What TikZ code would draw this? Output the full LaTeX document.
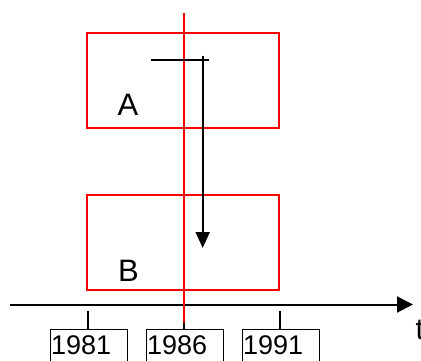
\documentclass[tikz,border=0pt]{standalone}
\usepackage{fontspec}
\setmainfont{Liberation Sans}
\usetikzlibrary{arrows.meta}
\begin{document}
\begin{tikzpicture}[x=1pt,y=-1pt,
  redbox/.style={draw=red,line width=2pt,minimum width=192pt,minimum height=95pt,inner sep=0pt},
  letter/.style={inner sep=0pt,anchor=base,font=\fontsize{31}{36}\selectfont},
  yearbox/.style={draw=black,line width=1pt,anchor=north west,text width=75pt,align=left,
    inner xsep=1pt,inner ysep=6pt,text height=19pt,text depth=10pt,font=\fontsize{27}{30}\selectfont},
  tickline/.style={draw=black,line width=1.6pt},
  blackline/.style={draw=black,line width=2pt}]
\useasboundingbox (0,0) rectangle (421,361);
% boxes
\node[redbox] (boxA) at (183,80.5) {};
\node[redbox] (boxB) at (183,242) {};
\node[letter] (labA) at (128,116) {A};
\node[letter] (labB) at (128.5,281) {B};
% year boxes
\node[yearbox] (y1981) at (49.5,329) {1981};
\node[yearbox] (y1986) at (145.5,329) {1986};
\node[yearbox] (y1991) at (241.5,329) {1991};
% ticks
\coordinate (t1) at (88,311);
\coordinate (t2) at (184,311);
\coordinate (t3) at (280,311);
\draw[tickline] (t1) -- (t1 |- y1981.north);
\draw[tickline] (t2) -- (t2 |- y1986.north);
\draw[tickline] (t3) -- (t3 |- y1991.north);
% axis
\coordinate (axstart) at (10,304.5);
\coordinate (axend) at (413,304.5);
\draw[blackline,-{Triangle[length=16pt,width=16pt]}] (axstart) -- (axend);
\node[inner sep=0pt,anchor=base west,font=\fontsize{30}{36}\selectfont] (tlab) at (415.5,339) {t};
% red vertical line
\coordinate (rtop) at (183.7,13.5);
\coordinate (rbot) at (183.7,323);
\draw[red,line width=2pt] (rtop) -- (rbot);
% black marker and arrow
\coordinate (hl) at (150.7,60);
\coordinate (hr) at (209,60);
\coordinate (vtop) at (202.7,55.7);
\coordinate (vbot) at (202.7,248);
\draw[blackline] (hl) -- (hr);
\draw[blackline,-{Triangle[length=16pt,width=14pt]}] (vtop) -- (vbot);
\end{tikzpicture}
\end{document}
